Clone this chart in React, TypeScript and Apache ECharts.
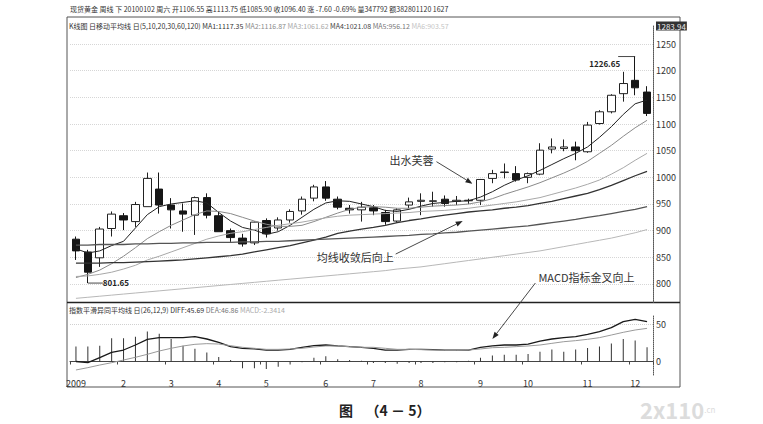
import { useEffect, useRef } from 'react';
import * as echarts from 'echarts';

// 2009 spot gold, weekly candles
const weekLabels = [
    '2009', '', '', '', '2', '', '', '', '3', '', '', '', '4', '', '', '', '5', '', '', '', '',
    '6', '', '', '', '7', '', '', '', '8', '', '', '', '', '9', '', '', '', '10', '', '', '', '',
    '11', '', '', '', '12', '',
];

const openPrices = [
    884, 860, 849, 904, 928, 917, 945, 978, 948, 937, 929, 962, 928, 900, 886, 877, 919, 905, 920, 937,
    961, 982, 959, 942, 939, 943, 934, 918, 948, 955, 955, 959, 955, 956, 957, 998, 1009, 1007, 1000, 1006,
    1053, 1054, 1057, 1048, 1101, 1123, 1157, 1182, 1160,
];
const closePrices = [
    862, 822, 903, 931, 920, 949, 998, 948, 939, 931, 962, 929, 898, 887, 875, 916, 894, 920, 936, 959,
    982, 961, 944, 939, 944, 937, 917, 939, 954, 957, 956, 951, 957, 957, 996, 1007, 1010, 995, 1007, 1051,
    1057, 1057, 1050, 1098, 1123, 1154, 1176, 1168, 1120,
];
const lowPrices = [
    845, 801.65, 832, 889, 901, 907, 945, 932, 904, 898, 892, 923, 898, 879, 870, 873, 887, 900, 915, 930,
    955, 956, 940, 932, 917, 929, 911, 915, 942, 929, 945, 945, 948, 950, 948, 989, 998, 992, 989, 1004,
    1045, 1049, 1032, 1046, 1099, 1120, 1142, 1154, 1115,
];
const highPrices = [
    889, 864, 907, 936, 933, 954, 1009, 1009, 961, 951, 964, 970, 936, 904, 894, 917, 923, 925, 940, 964,
    986, 993, 964, 948, 954, 948, 939, 942, 962, 970, 973, 966, 965, 960, 997, 1014, 1026, 1021, 1009, 1064,
    1073, 1071, 1067, 1104, 1126, 1156, 1198, 1226.65, 1171,
];

// moving averages 5/10/20/30/60/120
const ma1 = [
    866, 858, 862, 872, 880, 905, 930, 945, 950, 953, 956, 952, 934, 918, 906, 901, 893, 898, 910, 925,
    940, 952, 956, 955, 950, 945, 938, 936, 940, 946, 951, 953, 955, 956, 963, 973, 985, 995, 1003, 1013,
    1024, 1035, 1045, 1057, 1075, 1095, 1118, 1138, 1145,
];
const ma2 = [
    812, 818, 826, 838, 852, 868, 885, 898, 910, 920, 930, 937, 936, 932, 925, 918, 912, 908, 908, 910,
    917, 925, 933, 940, 944, 945, 944, 942, 942, 944, 946, 947, 948, 950, 954, 960, 968, 975, 982, 990,
    999, 1008, 1018, 1030, 1045, 1060, 1077, 1093, 1107,
];
const ma3 = [
    814, 815, 818, 822, 828, 835, 845, 852, 860, 868, 876, 884, 890, 895, 898, 902, 906, 910, 913, 916,
    920, 924, 927, 929, 930, 931, 932, 933, 934, 936, 937, 938, 940, 942, 945, 948, 951, 954, 958, 962,
    968, 974, 980, 987, 995, 1006, 1018, 1032, 1045,
];
const ma4 = [
    839, 839, 839, 840, 840, 841, 842, 843, 844, 845, 847, 849, 851, 853, 856, 860, 864, 868, 872, 877,
    882, 888, 895, 899, 903, 906, 910, 915, 919, 922, 926, 929, 932, 935, 937, 939, 942, 944, 947, 951,
    955, 960, 965, 970, 977, 985, 994, 1003, 1011,
];
const ma5 = [
    873, 873, 874, 874, 874, 875, 875, 876, 876, 877, 877, 878, 878, 878, 879, 879, 880, 880, 881, 882,
    883, 884, 885, 886, 887, 888, 889, 890, 891, 893, 894, 896, 897, 899, 901, 903, 905, 907, 909, 912,
    915, 918, 921, 925, 928, 932, 936, 940, 945,
];
const ma6 = [
    773, 775, 777, 779, 781, 783, 785, 787, 789, 791, 793, 795, 797, 799, 801, 803, 805, 807, 809, 811,
    813, 815, 817, 819, 821, 823, 825, 828, 830, 832, 835, 838, 841, 844, 847, 850, 853, 856, 859, 862,
    866, 870, 874, 878, 882, 886, 891, 896, 902,
];

// MACD(26,12,9)
const diffValues = [
    0, -1.6, 5.1, 12.2, 15.3, 22, 29.6, 31.8, 31.8, 31.8, 33.1, 30, 25.6, 19.8, 17.6, 16.7, 15.3, 15.3, 16.2, 18.9,
    21.1, 22, 20.7, 19.8, 18.9, 17.6, 15.3, 15.3, 16.2, 16.2, 15.8, 15.3, 15.3, 15.3, 18.9, 20.7, 22, 22, 23.3, 27.3,
    30, 31.8, 33.1, 36.2, 39.8, 45.1, 53.1, 56.2, 53.1,
];
const deaValues = [
    -11.3, -8.2, -4.7, -1.6, 2, 5.6, 9.6, 14, 17.6, 20.7, 22.9, 23.8, 23.3, 21.1, 18.9, 17.6, 16.2, 16.2, 16.7, 17.6,
    19.3, 20.7, 20.7, 19.8, 18.9, 18.9, 17.6, 16.2, 16.2, 15.8, 15.3, 14.9, 14.9, 15.3, 16.7, 18.4, 18.9, 19.8, 20.7, 22,
    24.2, 26.4, 27.8, 29.6, 31.8, 35.3, 38.9, 42, 44.2,
];
const macdBars = [
    20, 20, 21, 31, 31, 33, 40, 37, 30, 21, 17, 12, 6, 2, -9, -9, -10, -7, -4, -1,
    5, 7, 3, 2, 1, -2, -2, -3, -2, -2, -2, -1, -1, 1, 5, 8, 9, 9, 10, 13,
    16, 13, 16, 18, 20, 24, 30, 28, 19,
];

const priceTicks = [800, 850, 900, 950, 1000, 1050, 1100, 1150, 1200, 1250];
const priceTop = 1283.94;
const macdTicks = [0, 50];

const maColors = ['#222', '#8a8a8a', '#a8a8a8', '#333', '#555', '#b8b8b8'];
const font = '"Noto Sans CJK SC", "DejaVu Sans", sans-serif';
const small = `7px ${font}`;

function arrow(x1: number, y1: number, x2: number, y2: number) {
    const ang = Math.atan2(y2 - y1, x2 - x1);
    const len = 7;
    const half = 2.6;
    const bx = x2 - len * Math.cos(ang);
    const by = y2 - len * Math.sin(ang);
    const nx = -Math.sin(ang) * half;
    const ny = Math.cos(ang) * half;
    return [
        { type: 'line', silent: true, shape: { x1, y1, x2: bx, y2: by }, style: { stroke: '#333', lineWidth: 0.9 } },
        {
            type: 'polygon',
            silent: true,
            shape: { points: [[x2, y2], [bx + nx, by + ny], [bx - nx, by - ny]] },
            style: { fill: '#222' },
        },
    ];
}

export default function App() {
    const chartRef = useRef<HTMLDivElement>(null);

    useEffect(() => {
        if (!chartRef.current) return;
        const chart = echarts.init(chartRef.current, null, { renderer: 'svg' });

        const cats = weekLabels.map((_, i) => String(i));
        const candles = openPrices.map((o, i) => [o, closePrices[i], lowPrices[i], highPrices[i]]);
        const maData = [ma1, ma2, ma3, ma4, ma5, ma6];

        const option: any = {
            animation: false,
            backgroundColor: '#fff',
            grid: [
                { left: 70, right: 110, top: 26, bottom: 121.4 },
                { left: 70, right: 110, top: 315, height: 60 },
            ],
            xAxis: [
                {
                    type: 'category',
                    gridIndex: 0,
                    data: cats,
                    boundaryGap: true,
                    axisLine: { show: false },
                    axisTick: { show: false },
                    axisLabel: { show: false },
                },
                {
                    type: 'category',
                    gridIndex: 1,
                    data: cats,
                    boundaryGap: true,
                    axisLine: { lineStyle: { color: '#444', width: 1 } },
                    axisTick: {
                        show: true,
                        length: 3,
                        interval: (i: number) => weekLabels[i] !== '',
                        lineStyle: { color: '#444' },
                    },
                    axisLabel: {
                        interval: (i: number) => weekLabels[i] !== '',
                        formatter: (v: string) => weekLabels[Number(v)],
                        fontSize: 9,
                        color: '#333',
                        margin: 4,
                        fontFamily: font,
                    },
                },
            ],
            yAxis: [
                {
                    type: 'value',
                    gridIndex: 0,
                    position: 'right',
                    min: 765,
                    max: priceTop,
                    axisLine: { show: true, lineStyle: { color: '#555', type: 'dotted' } },
                    axisTick: { show: false, customValues: priceTicks },
                    axisLabel: {
                        customValues: [...priceTicks, priceTop],
                        fontSize: 9,
                        color: '#333',
                        margin: 3,
                        fontFamily: font,
                        formatter: (v: number) => (v === priceTop ? `{top|${v.toFixed(2)}}` : String(v)),
                        rich: {
                            top: {
                                backgroundColor: '#333',
                                color: '#eee',
                                fontSize: 8,
                                padding: [1, 1, 0, 1],
                                fontFamily: font,
                            },
                        },
                    },
                    splitLine: { show: true, lineStyle: { color: '#d6d6d6', type: 'dotted' } },
                },
                {
                    type: 'value',
                    gridIndex: 1,
                    position: 'right',
                    min: -18,
                    max: 62,
                    axisLine: { show: true, lineStyle: { color: '#555', type: 'dotted' } },
                    axisTick: { show: false, customValues: macdTicks },
                    axisLabel: {
                        customValues: macdTicks,
                        fontSize: 9,
                        color: '#333',
                        margin: 3,
                        fontFamily: font,
                    },
                    splitLine: { show: true, lineStyle: { color: '#d0d0d0', type: 'dotted' } },
                },
            ],
            series: [
                {
                    type: 'candlestick',
                    xAxisIndex: 0,
                    yAxisIndex: 0,
                    data: candles,
                    barWidth: 8,
                    itemStyle: {
                        color: '#fff',
                        color0: '#161616',
                        borderColor: '#222',
                        borderColor0: '#161616',
                        borderWidth: 1,
                    },
                    z: 2,
                },
                ...maData.map((d, k) => ({
                    type: 'line',
                    name: `MA${k + 1}`,
                    xAxisIndex: 0,
                    yAxisIndex: 0,
                    data: d,
                    showSymbol: false,
                    symbol: 'none',
                    lineStyle: { color: maColors[k], width: k === 3 || k === 4 ? 1.3 : 1 },
                    z: 3,
                })),
                {
                    type: 'bar',
                    xAxisIndex: 1,
                    yAxisIndex: 1,
                    data: macdBars,
                    barWidth: 1,
                    itemStyle: { color: '#333' },
                },
                {
                    type: 'line',
                    xAxisIndex: 1,
                    yAxisIndex: 1,
                    data: diffValues,
                    symbol: 'none',
                    lineStyle: { color: '#1a1a1a', width: 1.3 },
                },
                {
                    type: 'line',
                    xAxisIndex: 1,
                    yAxisIndex: 1,
                    data: deaValues,
                    symbol: 'none',
                    lineStyle: { color: '#9a9a9a', width: 1 },
                },
            ],
        };

        chart.setOption(option);

        const px = (grid: number, idx: number, v: number) =>
            chart.convertToPixel({ gridIndex: grid }, [idx, v]) as number[];

        const frame: any[] = [
            { type: 'rect', silent: true, shape: { x: 67, y: 17, width: 613, height: 370 }, style: { fill: 'none', stroke: '#555', lineWidth: 1 } },
            { type: 'line', silent: true, shape: { x1: 67, y1: 302.5, x2: 680, y2: 302.5 }, style: { stroke: '#222', lineWidth: 1.5 } },
            {
                type: 'text',
                silent: true,
                x: 70,
                y: 9,
                style: {
                    text: '现货黄金 周线 下 20100102 周六 开1106.55 高1113.75 低1085.90 收1096.40 涨 -7.60 -0.69% 量347792 额382801120 1627',
                    font: small,
                    fill: '#333',
                    verticalAlign: 'middle',
                },
            },
            {
                type: 'text',
                silent: true,
                x: 69,
                y: 26,
                style: {
                    text: '{a|K线图 日移动平均线 日(5,10,20,30,60,120)} {m1|MA1:1117.35} {m2|MA2:1116.87} {m3|MA3:1061.62} {m4|MA4:1021.08} {m5|MA5:956.12} {m6|MA6:903.57}',
                    font: small,
                    verticalAlign: 'middle',
                    rich: {
                        a: { fill: '#333', font: small },
                        m1: { fill: '#333', font: small },
                        m2: { fill: '#8a8a8a', font: small },
                        m3: { fill: '#a8a8a8', font: small },
                        m4: { fill: '#444', font: small },
                        m5: { fill: '#777', font: small },
                        m6: { fill: '#c4c4c4', font: small },
                    },
                },
            },
            {
                type: 'text',
                silent: true,
                x: 69,
                y: 310,
                style: {
                    text: '{a|指数平滑异同平均线 日(26,12,9) DIFF:45.69} {b|DEA:46.86} {c|MACD:-2.3414}',
                    font: small,
                    verticalAlign: 'middle',
                    rich: {
                        a: { fill: '#333', font: small },
                        b: { fill: '#777', font: small },
                        c: { fill: '#aaa', font: small },
                    },
                },
            },
            {
                type: 'text',
                silent: true,
                x: 346,
                y: 410,
                style: {
                    text: '图',
                    font: `bold 14px ${font}`,
                    fill: '#222',
                    align: 'center',
                    verticalAlign: 'middle',
                },
            },
            {
                type: 'text',
                silent: true,
                x: 398,
                y: 410,
                style: {
                    text: '（4 － 5）',
                    font: `bold 14px ${font}`,
                    fill: '#222',
                    align: 'center',
                    verticalAlign: 'middle',
                },
            },
            {
                type: 'text',
                silent: true,
                x: 640,
                y: 409,
                style: {
                    text: '{w|2x110}{s|.cn}',
                    verticalAlign: 'middle',
                    rich: {
                        w: { fill: '#dcdcdc', font: `bold 22px ${font}` },
                        s: { fill: '#dcdcdc', font: `8px ${font}` },
                    },
                },
            },
        ];

        // price labels on the extremes
        const hi = px(0, 47, highPrices[47]);
        const lo = px(0, 1, lowPrices[1]);
        const notes: any[] = [
            { type: 'line', silent: true, shape: { x1: hi[0], y1: hi[1], x2: hi[0] - 17, y2: hi[1] }, style: { stroke: '#333', lineWidth: 0.9 } },
            {
                type: 'text', silent: true, x: hi[0] - 15, y: hi[1] + 7,
                style: { text: highPrices[47].toFixed(2), font: `bold 8px ${font}`, fill: '#222', align: 'right', verticalAlign: 'middle' },
            },
            { type: 'line', silent: true, shape: { x1: lo[0], y1: lo[1], x2: lo[0] + 15, y2: lo[1] }, style: { stroke: '#333', lineWidth: 0.9 } },
            {
                type: 'text', silent: true, x: lo[0] + 15, y: lo[1] - 1,
                style: { text: lowPrices[1].toFixed(2), font: `bold 8px ${font}`, fill: '#222', align: 'left', verticalAlign: 'middle' },
            },
        ];

        // 出水芙蓉
        const a1 = px(0, 34, 990);
        const e1 = [a1[0] - 8, a1[1] + 1];
        const s1 = [e1[0] - 36, e1[1] - 22];
        notes.push(...arrow(s1[0], s1[1], e1[0], e1[1]));
        notes.push({
            type: 'text', silent: true, x: s1[0] - 3, y: s1[1] - 2,
            style: { text: '出水芙蓉', font: `11px ${font}`, fill: '#333', align: 'right', verticalAlign: 'middle' },
        });

        // 均线收敛后向上
        const a2 = px(0, 32, 918);
        const e2 = [a2[0] + 6, a2[1]];
        const s2 = [e2[0] - 67, e2[1] + 33];
        notes.push(...arrow(s2[0], s2[1], e2[0], e2[1]));
        notes.push({
            type: 'text', silent: true, x: s2[0] - 2, y: s2[1] + 3,
            style: { text: '均线收敛后向上', font: `11px ${font}`, fill: '#333', align: 'right', verticalAlign: 'middle' },
        });

        // MACD指标金叉向上
        const a3 = px(1, 35, 30);
        const e3 = [a3[0], a3[1]];
        const s3 = [e3[0] + 43, e3[1] - 56];
        notes.push(...arrow(s3[0], s3[1], e3[0], e3[1]));
        notes.push({
            type: 'text', silent: true, x: s3[0] + 3, y: s3[1] - 6,
            style: { text: 'MACD指标金叉向上', font: `11px ${font}`, fill: '#333', align: 'left', verticalAlign: 'middle' },
        });

        chart.setOption({ graphic: [...frame, ...notes] });

        return () => {
            chart.dispose();
        };
    }, []);

    return (
        <div
            ref={chartRef}
            style={{ position: 'fixed', left: 0, top: 0, width: 763, height: 424 }}
        />
    );
}
